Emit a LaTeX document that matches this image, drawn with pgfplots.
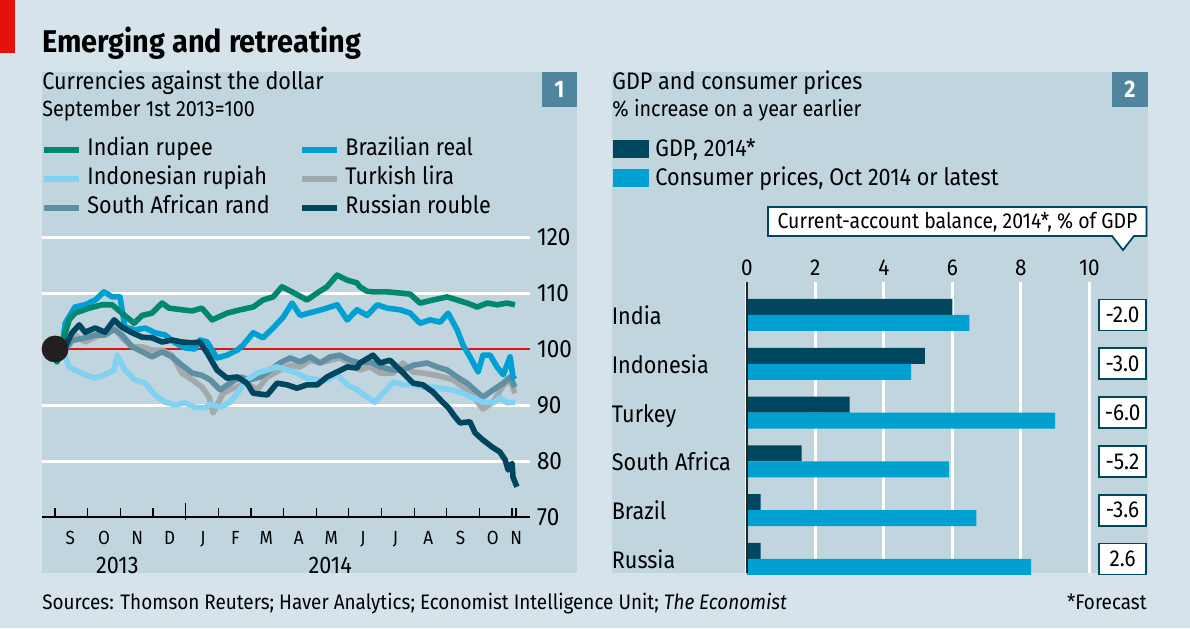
\documentclass[border=0pt]{standalone}
\usepackage{pgfplots}
\pgfplotsset{compat=1.18}
\usepackage{fontspec}
\setmainfont{Fira Sans}[FakeStretch=0.9]
\newfontfamily\titlefont{Fira Sans}[FakeStretch=0.92]
\newcommand{\fs}[1]{\fontsize{#1}{#1}\selectfont}
\definecolor{bgout}{HTML}{D6E3EA}
\definecolor{panel}{HTML}{C1D5DF}
\definecolor{boxblue}{HTML}{50869D}
\definecolor{ecored}{HTML}{E3120B}
\definecolor{rupee}{HTML}{00876F}
\definecolor{real}{HTML}{00A0D2}
\definecolor{rupiah}{HTML}{80D2F0}
\definecolor{lira}{HTML}{A3A8AB}
\definecolor{rand}{HTML}{5F8FA2}
\definecolor{rouble}{HTML}{00465F}
\definecolor{gdpc}{HTML}{00465F}
\definecolor{cpic}{HTML}{00A1D1}
\definecolor{dotblack}{HTML}{231F20}
\tikzset{cabox/.style={draw=gdpc, fill=white, line width=0.9pt, minimum width=23.5pt, minimum height=15.5pt, inner sep=0pt, font=\fs{11.5}}}
\begin{document}
\begin{tikzpicture}
% backgrounds
\fill[bgout] (0pt,0pt) rectangle (595pt,314pt);
\fill[ecored] (0pt,287.5pt) rectangle (7.5pt,314pt);
\fill[panel] (21pt,27.5pt) rectangle (288.5pt,278pt);
\fill[panel] (306pt,27.5pt) rectangle (574pt,278pt);
\fill[boxblue] (271pt,260.5pt) rectangle (288.5pt,278pt);
\fill[boxblue] (556pt,260.5pt) rectangle (574pt,278pt);
\node[white] at (279.75pt,269.25pt) {\bfseries\fs{12}1};
\node[white] at (565pt,269.25pt) {\bfseries\fs{12}2};
% titles
\node[anchor=base west, inner sep=0] at (21pt,287.5pt) {\titlefont\bfseries\fs{15.7}Emerging and retreating};
\node[anchor=base west, inner sep=0] at (21pt,269.35pt) {\fs{12}Currencies against the dollar};
\node[anchor=base west, inner sep=0] at (21pt,255.65pt) {\fs{11}September 1st 2013=100};
\node[anchor=base west, inner sep=0] at (306pt,269.35pt) {\fs{12}GDP and consumer prices};
\node[anchor=base west, inner sep=0] at (306pt,255.65pt) {\fs{11}\% increase on a year earlier};
% left legend
\draw[rupee, line width=3pt] (22pt,238.8pt) -- (39.5pt,238.8pt);
\node[anchor=mid west, inner sep=0] at (43.5pt,238.8pt) {\fs{12}Indian rupee};
\draw[rupiah, line width=3pt] (22pt,224.4pt) -- (39.5pt,224.4pt);
\node[anchor=mid west, inner sep=0] at (43.5pt,224.4pt) {\fs{12}Indonesian rupiah};
\draw[rand, line width=3pt] (22pt,209.9pt) -- (39.5pt,209.9pt);
\node[anchor=mid west, inner sep=0] at (43.5pt,209.9pt) {\fs{12}South African rand};
\draw[real, line width=3pt] (151pt,238.8pt) -- (168.5pt,238.8pt);
\node[anchor=mid west, inner sep=0] at (172.5pt,238.8pt) {\fs{12}Brazilian real};
\draw[lira, line width=3pt] (151pt,224.4pt) -- (168.5pt,224.4pt);
\node[anchor=mid west, inner sep=0] at (172.5pt,224.4pt) {\fs{12}Turkish lira};
\draw[rouble, line width=3pt] (151pt,209.9pt) -- (168.5pt,209.9pt);
\node[anchor=mid west, inner sep=0] at (172.5pt,209.9pt) {\fs{12}Russian rouble};
% right legend
\fill[gdpc] (306.5pt,235pt) rectangle (324.5pt,244pt);
\node[anchor=mid west, inner sep=0] at (327.5pt,238.6pt) {\fs{12}GDP, 2014*};
\fill[cpic] (306.5pt,220.5pt) rectangle (324.5pt,229.5pt);
\node[anchor=mid west, inner sep=0] at (327.5pt,224.1pt) {\fs{12}Consumer prices, Oct 2014 or latest};
% callout
\draw[fill=white, draw=gdpc, line width=0.9pt] (384pt,210.5pt) -- (573.25pt,210.5pt) -- (573.25pt,196pt) -- (567pt,196pt) -- (561.5pt,189pt) -- (556pt,196pt) -- (384pt,196pt) -- cycle;
\node[anchor=base, inner sep=0] at (478.75pt,199.85pt) {\fs{10.8}Current-account balance, 2014*, \% of GDP};
% footer
\node[anchor=base west, inner sep=0] at (21pt,9.5pt) {\fs{10.5}Sources: Thomson Reuters; Haver Analytics; Economist Intelligence Unit; \textit{The Economist}};
\node[anchor=base east, inner sep=0] at (573.5pt,9.5pt) {\fs{10.5}*Forecast};

% ---------------- left chart
\begin{axis}[
  at={(21pt,55.5pt)}, anchor=south west, scale only axis,
  width=244pt, height=140pt,
  xmin=-0.4, xmax=14.55, ymin=70, ymax=120,
  axis line style={draw=none}, clip=false,
  /pgf/number format/assume math mode=true,
  ytick={80,90,110,120}, extra y ticks={70,100},
  extra y tick style={grid=none},
  ymajorgrids, major grid style={white, line width=1.5pt},
  yticklabel pos=right, ytick style={draw=none},
  yticklabel style={font=\fs{12.5}, anchor=west, xshift=0pt},
  xtick={0,1,2,3,4,5,6,7,8,9,10,11,12,13,14,14.12}, xticklabels={},
  xtick pos=left, xtick style={black, line width=0.6pt}, major tick length=4.5pt,
  extra x ticks={0.47,1.5,2.52,3.51,4.53,5.52,6.47,7.47,8.46,9.43,10.43,11.43,12.42,13.41,14.13},
  extra x tick labels={S,O,N,D,J,F,M,A,M,J,J,A,S,O,N},
  extra x tick style={major tick length=0pt, xticklabel style={font=\fs{9.5}, anchor=base, yshift=-13.5pt}},
  every axis plot/.append style={line width=2.8pt, line join=round},
]
\draw[ecored, line width=1pt] (axis cs:0,100) -- (axis cs:14.55,100);
\draw[black, line width=0.8pt] (axis cs:-0.4,70) -- (axis cs:14.55,70);
\draw[black, line width=0.8pt] ([yshift=-1.5pt]axis cs:4,70) -- ([yshift=7pt]axis cs:4,70);
\node[anchor=base, font=\fs{12}] at (axis cs:1.91,70) [yshift=-28pt] {2013};
\node[anchor=base, font=\fs{12}] at (axis cs:8.43,70) [yshift=-28pt] {2014};

% Turkish lira
\addplot[lira] coordinates {(0,100) (0.21,99.3) (0.43,101.6) (0.61,102.5) (0.92,101.25) (1.23,102.1) (1.53,102.9) (1.81,103.9) (2.05,102) (2.36,100.4) (2.67,100.4) (2.97,99.8) (3.28,99.8) (3.58,98.9) (3.89,95.7) (4.20,94.5) (4.50,93.2) (4.72,91.4) (4.84,88.6) (5.15,92.1) (5.45,93) (5.88,93.9) (6.19,92.7) (6.50,95) (6.89,96.25) (7.20,97.1) (7.51,96.8) (7.81,98) (8.12,97.5) (8.43,98) (8.73,98.4) (9.04,97.5) (9.34,96.25) (9.65,96.8) (9.96,95.7) (10.36,95.7) (10.66,97.5) (10.97,95.9) (11.27,95.7) (11.58,95.4) (11.89,95) (12.19,94.5) (12.50,93.2) (12.81,91.5) (13.11,89.3) (13.42,90.5) (13.73,93.5) (13.94,94.5) (14.09,92.1)};
% South African rand
\addplot[rand] coordinates {(0,100) (0.28,99.6) (0.52,101.5) (0.92,102) (1.23,102.5) (1.53,102.5) (1.81,103.5) (2.05,102.5) (2.36,100.4) (2.67,99.5) (2.97,98.6) (3.28,99.5) (3.58,98.6) (3.89,97.1) (4.20,95.7) (4.50,95.3) (4.75,94.5) (5.06,92.7) (5.36,93.9) (5.67,95) (5.97,94.5) (6.28,95) (6.59,96.25) (6.89,97.5) (7.20,98.4) (7.51,97.7) (7.81,98.6) (8.12,97.5) (8.43,98.6) (8.73,98.9) (9.04,98) (9.34,97.5) (9.65,97.7) (9.96,96.8) (10.36,96.25) (10.66,96.25) (10.97,97.1) (11.40,97.5) (11.70,96.8) (12.01,96.25) (12.32,95) (12.62,93.9) (12.93,92.3) (13.11,91.4) (13.42,92.7) (13.73,93.9) (13.94,95) (14.09,93.2)};
% Indonesian rupiah
\addplot[rupiah] coordinates {(0,100) (0.28,99.3) (0.43,96.8) (0.61,96.25) (0.92,95.4) (1.23,94.8) (1.53,95.4) (1.81,96.25) (1.90,98.9) (2.14,96.25) (2.45,94.5) (2.76,93.9) (3.06,91.8) (3.37,90.5) (3.68,90) (3.98,90.4) (4.29,89.6) (4.60,89.5) (4.75,90.2) (5.06,89.6) (5.36,90.5) (5.58,92.1) (5.88,94.5) (6.19,95.7) (6.50,96.25) (6.80,96.8) (7.11,96.25) (7.41,95.7) (7.72,94.8) (8.03,94.5) (8.33,94.5) (8.64,95.4) (8.95,93.6) (9.25,92.7) (9.56,91.4) (9.80,90.5) (10.05,92.1) (10.36,94.1) (10.66,93.6) (10.97,93.6) (11.27,93.2) (11.58,93.2) (11.89,92.9) (12.19,92.7) (12.50,92.1) (12.81,91.25) (13.11,90.5) (13.42,90.4) (13.63,91.25) (13.85,90.4) (14.09,90.5)};
% Brazilian real
\addplot[real] coordinates {(0,100) (0.21,100) (0.31,104.6) (0.61,107.5) (0.92,107.9) (1.23,108.75) (1.50,110.2) (1.75,109.3) (1.99,109.3) (2.14,103.9) (2.45,103.4) (2.76,103.75) (3.06,102.9) (3.37,102.5) (3.68,101.1) (3.98,100.2) (4.29,100) (4.44,101.6) (4.66,101.25) (4.96,98.4) (5.27,98.9) (5.58,99.8) (5.76,100.7) (6.07,102.9) (6.37,102) (6.68,103.75) (6.99,105.7) (7.26,108.2) (7.51,106) (7.90,106.6) (8.33,107.3) (8.64,107.9) (8.95,105.2) (9.25,107) (9.56,106) (9.87,107.9) (10.17,107.3) (10.57,107) (10.88,106.4) (11.18,104.6) (11.49,105.2) (11.80,104.8) (12.04,106.4) (12.32,103.4) (12.50,100.7) (12.71,98.6) (12.96,95.9) (13.11,98.9) (13.33,98.9) (13.54,96.8) (13.73,95.4) (13.94,98.6) (14.03,95) (14.09,94.6)};
% Indian rupee
\addplot[rupee] coordinates {(0,100) (0.06,97.7) (0.43,105.2) (0.61,106.4) (1.04,107.3) (1.44,107.9) (1.75,107.9) (2.05,106.4) (2.42,104.6) (2.67,106) (2.97,106.4) (3.28,108.2) (3.49,107.3) (3.89,107) (4.20,106.8) (4.50,107.3) (4.81,105.2) (5.27,106.4) (5.67,107) (6.07,107.5) (6.37,108.75) (6.68,109.3) (6.95,111.1) (7.26,110.2) (7.72,108.75) (8.03,110) (8.33,111.1) (8.64,113.2) (8.95,112.3) (9.25,111.8) (9.34,111.1) (9.56,110.3) (9.74,110.2) (10.17,110.2) (10.57,110) (10.88,109.8) (11.18,108.2) (11.58,108.75) (12.01,109.3) (12.32,108.75) (12.62,108.2) (12.93,107.5) (13.24,108.2) (13.54,107.9) (13.85,108.2) (14.09,107.9)};
% Russian rouble
\addplot[rouble] coordinates {(0,100) (0.31,100.4) (0.52,102.9) (0.74,104.3) (0.92,103) (1.23,103.75) (1.53,103) (1.81,105.2) (2.05,103.9) (2.36,102.9) (2.67,102.1) (2.97,102) (3.28,101.25) (3.58,101.6) (3.89,101.25) (4.20,101.1) (4.44,101.25) (4.66,99.3) (4.96,96.25) (5.27,94.8) (5.58,95) (5.88,93.9) (6.07,92.1) (6.50,91.8) (6.80,93.9) (7.11,93.6) (7.41,93) (7.72,93.6) (8.03,93.6) (8.33,95) (8.64,95.9) (8.95,96.8) (9.25,96.6) (9.34,97.5) (9.74,98.9) (9.96,97.5) (10.26,98) (10.57,96.25) (10.97,93.9) (11.27,93.6) (11.58,92.3) (11.89,90.4) (12.04,89.6) (12.25,87.9) (12.41,86.8) (12.71,87) (12.87,85) (13.11,83.75) (13.39,82.5) (13.63,81.6) (13.79,80.2) (13.88,78.4) (14.00,79.6) (14.03,77.1) (14.15,75.4)};
% start dot
\addplot[only marks, mark=*, mark size=5.3pt, dotblack] coordinates {(0,100)};
\end{axis}

% ---------------- right chart
\begin{axis}[
  at={(373.4pt,27.5pt)}, anchor=south west, scale only axis,
  width=171.25pt, height=145.5pt,
  xmin=0, xmax=10, ymin=-0.287, ymax=5.676,
  axis line style={draw=none}, clip=false,
  /pgf/number format/assume math mode=true,
  xtick={0,2,4,6,8,10}, xmajorgrids, major grid style={white, line width=1.5pt},
  xticklabel pos=right, xtick style={draw=none},
  xticklabel style={font=\fs{11.5}, anchor=base, yshift=3.5pt},
  ytick={0,1,2,3,4,5}, yticklabels={Russia,Brazil,South Africa,Turkey,Indonesia,India},
  ytick style={draw=none},
  yticklabel style={font=\fs{12}, anchor=base west, inner sep=0pt, xshift=-63.4pt, yshift=-4.8pt},
  xbar, bar width=8pt,
]
\addplot[fill=gdpc, draw=none, bar shift=4pt] coordinates {(6.0,5) (5.2,4) (3.0,3) (1.6,2) (0.4,1) (0.4,0)};
\addplot[fill=cpic, draw=none, bar shift=-4pt] coordinates {(6.5,5) (4.8,4) (9.0,3) (5.9,2) (6.7,1) (8.3,0)};
\draw[black!85, line width=0.75pt] (axis cs:0,-0.287) -- (axis cs:0,5.676);
\node[cabox] at (axis cs:10.97,5) {-2.0};
\node[cabox] at (axis cs:10.97,4) {-3.0};
\node[cabox] at (axis cs:10.97,3) {-6.0};
\node[cabox] at (axis cs:10.97,2) {-5.2};
\node[cabox] at (axis cs:10.97,1) {-3.6};
\node[cabox] at (axis cs:10.97,0) {2.6};
\end{axis}
\end{tikzpicture}
\end{document}
